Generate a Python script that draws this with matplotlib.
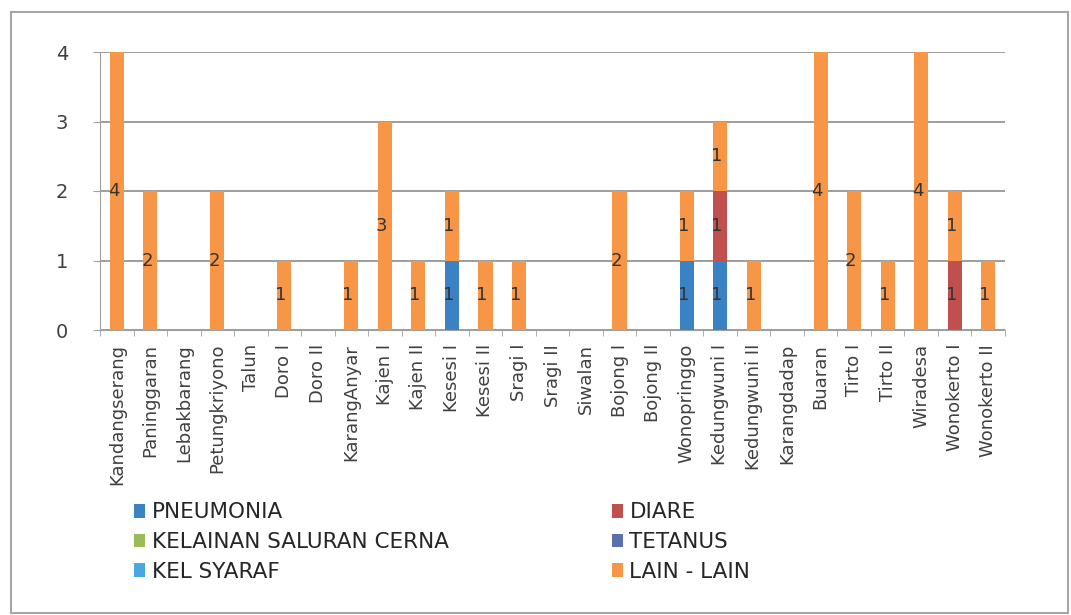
import numpy as np
import matplotlib
matplotlib.use("Agg")
import matplotlib.pyplot as plt
from matplotlib.patches import Rectangle

puskesmas = ['Kandangserang', 'Paninggaran', 'Lebakbarang', 'Petungkriyono', 'Talun',
             'Doro I', 'Doro II', 'KarangAnyar', 'Kajen I', 'Kajen II', 'Kesesi I',
             'Kesesi II', 'Sragi I', 'Sragi II', 'Siwalan', 'Bojong I', 'Bojong II',
             'Wonopringgo', 'Kedungwuni I', 'Kedungwuni II', 'Karangdadap', 'Buaran',
             'Tirto I', 'Tirto II', 'Wiradesa', 'Wonokerto I', 'Wonokerto II']

pneumonia = [0, 0, 0, 0, 0, 0, 0, 0, 0, 0, 1, 0, 0, 0, 0, 0, 0, 1, 1, 0, 0, 0, 0, 0, 0, 0, 0]
diare     = [0, 0, 0, 0, 0, 0, 0, 0, 0, 0, 0, 0, 0, 0, 0, 0, 0, 0, 1, 0, 0, 0, 0, 0, 0, 1, 0]
kelainan  = [0] * 27
tetanus   = [0] * 27
kel_syaraf = [0] * 27
lain_lain = [4, 2, 0, 2, 0, 1, 0, 1, 3, 1, 1, 1, 1, 0, 0, 2, 0, 1, 1, 1, 0, 4, 2, 1, 4, 1, 1]

series_names = ['PNEUMONIA', 'DIARE', 'KELAINAN SALURAN CERNA', 'TETANUS', 'KEL SYARAF', 'LAIN - LAIN']
series_vals = [pneumonia, diare, kelainan, tetanus, kel_syaraf, lain_lain]
colors = ['#3b82c4', '#c0504d', '#9bbb59', '#5a6fae', '#4aa8e0', '#f79646']

fig = plt.figure(figsize=(10.71, 6.15), dpi=100)
ax = fig.add_axes([100 / 1071, 1 - 330 / 615, 905 / 1071, 278 / 615])

x = np.arange(len(puskesmas))
width = 0.42
bottom = np.zeros(len(puskesmas))
handles = []
for name, vals, c in zip(series_names, series_vals, colors):
    vals = np.array(vals, dtype=float)
    h = ax.bar(x, vals, width, bottom=bottom, color=c, label=name, zorder=3)
    handles.append(h)
    for xi, v, b in zip(x, vals, bottom):
        if v > 0:
            ax.text(xi - 0.1, b + v / 2, '%d' % v, ha='center', va='center',
                    fontsize=13, color='#333333', zorder=4)
    bottom += vals

ax.set_xlim(-0.5, len(puskesmas) - 0.5)
ax.set_ylim(0, 4)
ax.set_yticks(range(0, 5))
ax.yaxis.grid(True, color='#8c8c8c', linewidth=1.2, zorder=0)
ax.set_xticks(x)
ax.set_xticklabels(puskesmas, rotation=90, fontsize=13, color='#404040')
ax.set_xticks(np.arange(-0.5, len(puskesmas)), minor=True)
ax.tick_params(axis='x', which='major', length=0, pad=10)
ax.tick_params(axis='x', which='minor', length=4, color='#a0a0a0')
ax.tick_params(axis='y', labelsize=14, colors='#404040', length=5, pad=18)
ax.tick_params(axis='y', color='#a0a0a0')
for s in ['top', 'right']:
    ax.spines[s].set_visible(False)
ax.spines['left'].set_color('#a0a0a0')
ax.spines['bottom'].set_color('#a0a0a0')

# legend: two columns, order as in the original
order = [0, 2, 4, 1, 3, 5]
fig.legend([handles[i] for i in order], [series_names[i] for i in order],
           loc='upper left', bbox_to_anchor=(115 / 1071, 1 - 483 / 615), ncol=2,
           frameon=False, fontsize=15.5, handlelength=0.5, handleheight=0.6,
           handletextpad=0.3, columnspacing=7.6, labelspacing=0.45,
           labelcolor='#262626')

# chart border
fig.patches.append(Rectangle((11 / 1071, 2 / 615), 1057 / 1071, 601 / 615,
                             transform=fig.transFigure, fill=False,
                             edgecolor='#a6a6a6', linewidth=1.5))

plt.savefig('out.png', dpi=100)
